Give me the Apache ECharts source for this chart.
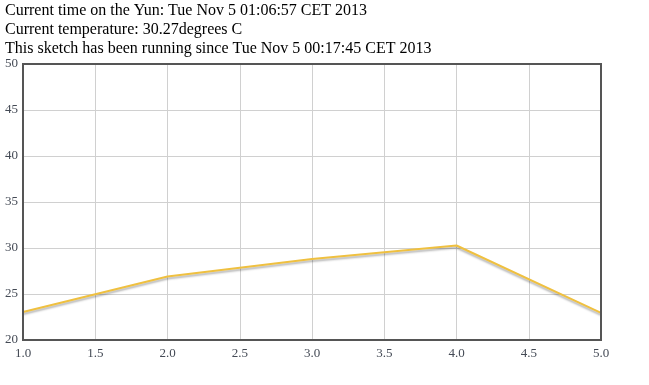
<!DOCTYPE html>
<html><head><meta charset="utf-8">
<script src="https://cdn.jsdelivr.net/npm/echarts@6/dist/echarts.min.js"></script>
<style>html,body{margin:0;padding:0;background:#fff}#c{width:649px;height:385px}</style>
</head><body><div id="c"></div>
<script>
const headerLines = [
  'Current time on the Yun: Tue Nov 5 01:06:57 CET 2013',
  'Current temperature: 30.27degrees C',
  'This sketch has been running since Tue Nov 5 00:17:45 CET 2013'
];
const xValues = [1, 2, 3, 4, 5];
const temps = [23.05, 26.9, 28.8, 30.27, 22.95];
const yTicks = [20, 25, 30, 35, 40, 45, 50];
const xTicks = [1.0, 1.5, 2.0, 2.5, 3.0, 3.5, 4.0, 4.5, 5.0];

const chart = echarts.init(document.getElementById('c'), null, {renderer: 'canvas'});
const serif = '"Liberation Serif", "DejaVu Serif", serif';
chart.setOption({
  animation: false,
  graphic: headerLines.map((t, i) => ({
    type: 'text', left: 5, top: 3 + i * 19,
    style: {text: t, font: '16px ' + serif, fill: '#000'}
  })).concat([{
    type: 'rect', shape: {x: 23, y: 64, width: 578, height: 276},
    style: {fill: 'none', stroke: '#555', lineWidth: 2}, z: 10
  }]),
  grid: {left: 23, right: 48, top: 64, bottom: 45},
  xAxis: {
    type: 'value', min: 1, max: 5, interval: 0.5,
    axisLine: {show: false}, axisTick: {show: false},
    splitLine: {show: true, lineStyle: {color: '#d0d0d0', width: 1}},
    axisLabel: {color: '#444a55', fontFamily: serif, fontSize: 13, margin: 7,
      formatter: v => v.toFixed(1)}
  },
  yAxis: {
    type: 'value', min: 20, max: 50, interval: 5,
    axisLine: {show: false}, axisTick: {show: false},
    splitLine: {show: true, lineStyle: {color: '#d0d0d0', width: 1}},
    axisLabel: {color: '#444a55', fontFamily: serif, fontSize: 13, margin: 5}
  },
  series: [{
    type: 'line',
    data: xValues.map((x, i) => [x, temps[i]]),
    showSymbol: false,
    lineStyle: {color: '#efc040', width: 2, shadowColor: 'rgba(0,0,0,0.3)', shadowBlur: 2, shadowOffsetY: 2, shadowOffsetX: 0}
  }]
});
</script></body></html>
